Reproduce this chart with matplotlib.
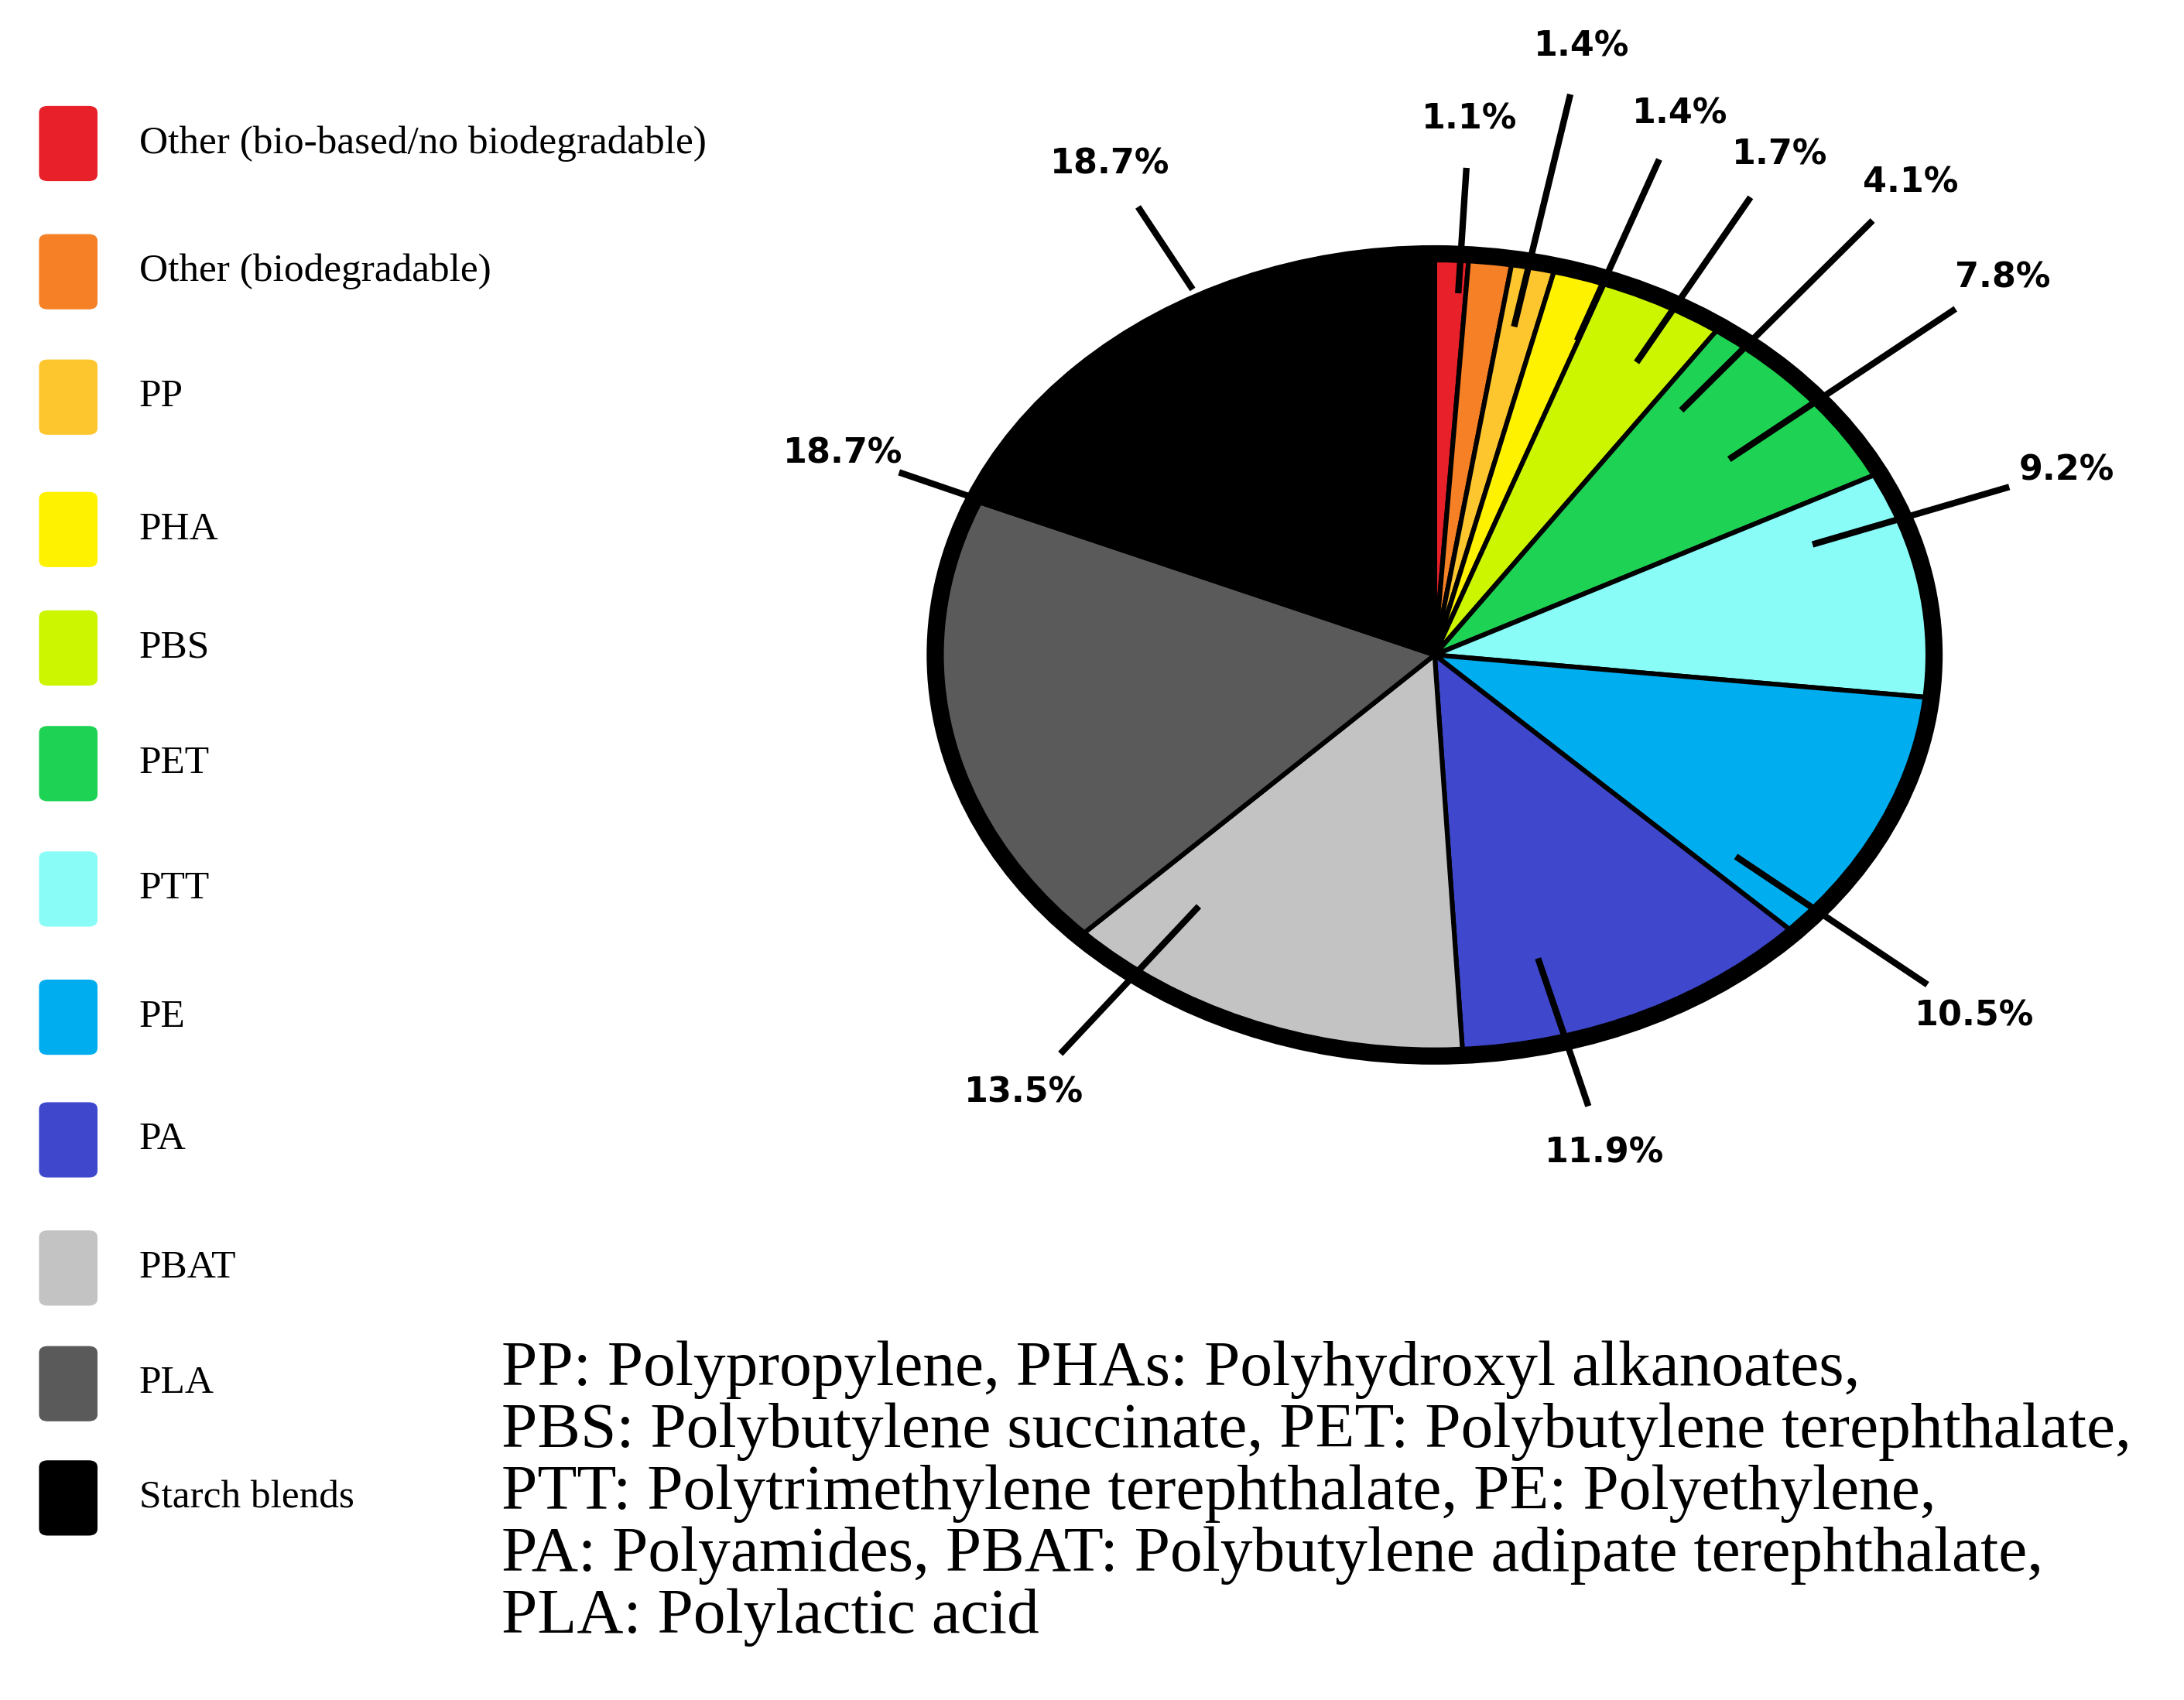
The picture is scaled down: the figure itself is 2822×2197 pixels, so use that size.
import numpy as np
import matplotlib.pyplot as plt
from matplotlib.patches import FancyBboxPatch, Ellipse

labels = ['Other (bio-based/no biodegradable)', 'Other (biodegradable)', 'PP', 'PHA', 'PBS',
          'PET', 'PTT', 'PE', 'PA', 'PBAT', 'PLA', 'Starch blends']
values = [1.1, 1.4, 1.4, 1.7, 4.1, 7.8, 9.2, 10.5, 11.9, 13.5, 18.7, 18.7]
colors = ['#e8202a', '#f58025', '#fec62e', '#fff200', '#ccf500', '#1ed253',
          '#8afcf8', '#00aeef', '#3f48cc', '#c3c3c3', '#5a5a5a', '#000000']

# label placement: angle (deg, data space), text radius, leader start radius
lab_ang = [87, 79, 70, 61, 51, 39.6, 20, -39.8, -74.7, -127, 157, 118]
lab_r = [1.35, 1.56, 1.45, 1.44, 1.53, 1.49, 1.36, 1.42, 1.30, 1.38, 1.30, 1.40]
start_r = [0.92, 0.85, 0.85, 0.85, 0.8, 0.78, 0.82, 0.8, 0.8, 0.8, 0.85, 1.05]

fig = plt.figure(figsize=(14.11, 10.985), dpi=200)
W, H = 1568, 1220

ax = fig.add_axes([(1030 - 355) / W, 1 - (470 + 285) / H, 710 / W, 570 / H])
wedges, _ = ax.pie(values, colors=colors, startangle=90, counterclock=False, radius=1,
                   wedgeprops=dict(edgecolor='black', linewidth=2.2))
for w in wedges:
    w.set_clip_on(False)
ax.set_aspect('auto')
ax.set_xlim(-1, 1)
ax.set_ylim(-1, 1)
ax.add_patch(Ellipse((0, 0), 2.02, 2.02, fill=False, edgecolor='black', linewidth=8,
                     zorder=5, clip_on=False))
ax.axis('off')

for i, v in enumerate(values):
    a = np.deg2rad(lab_ang[i])
    x0, y0 = start_r[i] * np.cos(a), start_r[i] * np.sin(a)
    x1, y1 = (lab_r[i] - 0.13) * np.cos(a), (lab_r[i] - 0.13) * np.sin(a)
    ax.plot([x0, x1], [y0, y1], color='black', lw=3, clip_on=False, zorder=6)
    ax.text(lab_r[i] * np.cos(a), lab_r[i] * np.sin(a), f'{v}%', ha='center', va='center',
            fontsize=16, fontweight='bold', family='DejaVu Sans', clip_on=False)

# legend
rows = [103, 195, 285, 380, 465, 548, 638, 730, 818, 910, 993, 1075]
for y, c, lab in zip(rows, colors, labels):
    fig.add_artist(FancyBboxPatch((28 / W, 1 - (y + 27) / H), 42 / W, 54 / H,
                                  boxstyle='round,pad=0,rounding_size=0.004',
                                  facecolor=c, edgecolor='none', transform=fig.transFigure))
    fig.text(100 / W, 1 - y / H, lab, ha='left', va='center', fontsize=18.5,
             family='Liberation Serif')

note = ('PP: Polypropylene, PHAs: Polyhydroxyl alkanoates,\n'
        'PBS: Polybutylene succinate, PET: Polybutylene terephthalate,\n'
        'PTT: Polytrimethylene terephthalate, PE: Polyethylene,\n'
        'PA: Polyamides, PBAT: Polybutylene adipate terephthalate,\n'
        'PLA: Polylactic acid')
fig.text(360 / W, 1 - 962 / H, note, ha='left', va='top', fontsize=30,
         family='Liberation Serif', linespacing=1.08)

fig.savefig('out.png', dpi=200, facecolor='white')
